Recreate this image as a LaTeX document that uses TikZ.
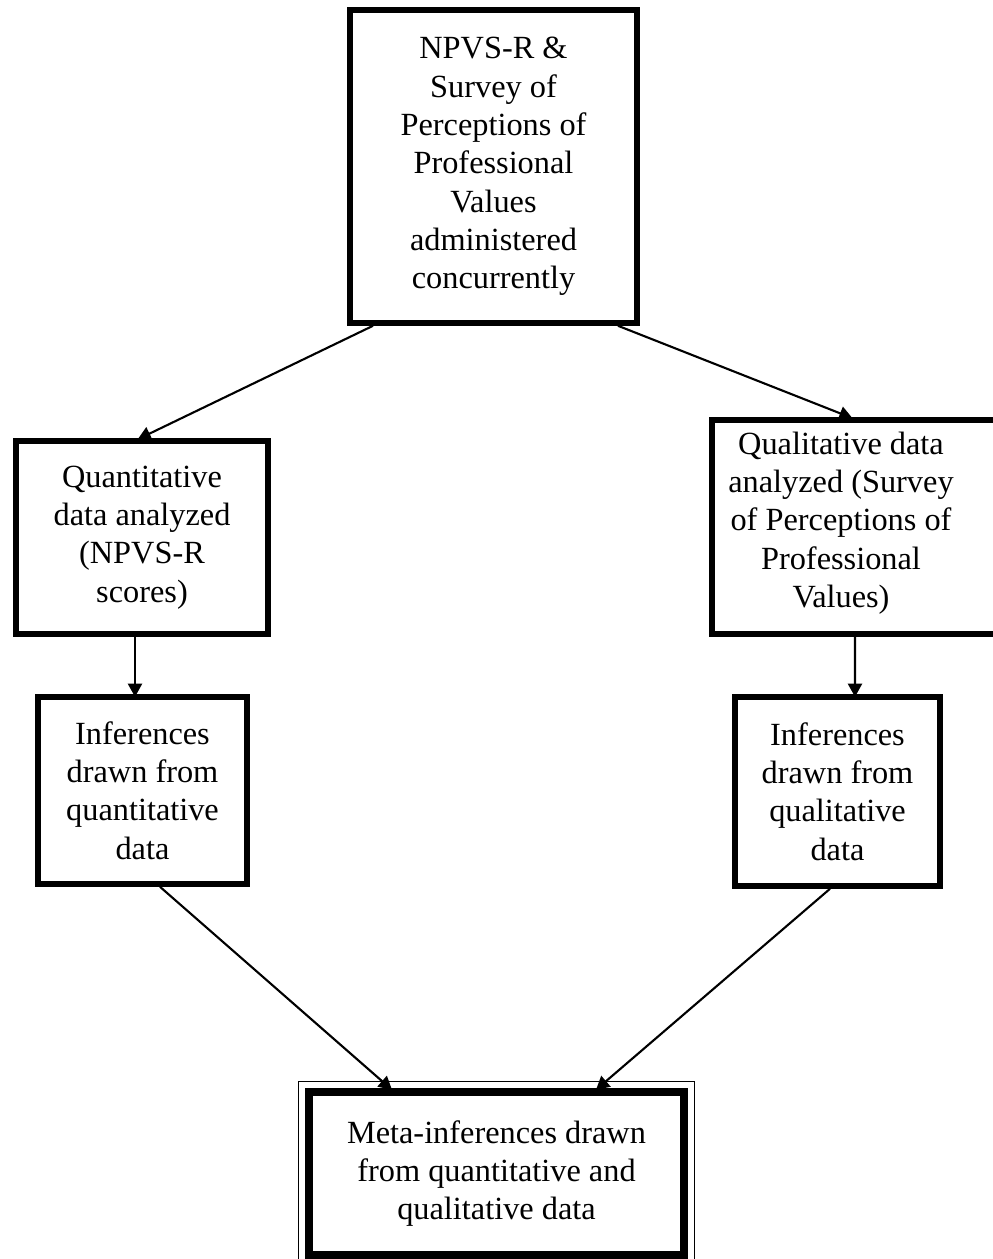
\documentclass[tikz,border=0pt]{standalone}
\usepackage{fontspec}
\setmainfont{Liberation Serif}
\usetikzlibrary{arrows.meta}
\tikzset{
  box/.style={draw,line width=3.2pt,align=center,inner sep=0pt,font=\fontsize{18.4}{21.8}\selectfont},
  txt/.style={align=center,inner sep=0pt,font=\fontsize{18.4}{21.8}\selectfont},
  arr/.style={-{Triangle[length=7.5pt,width=8pt]},line width=1.2pt,shorten >=-1.5pt},
  thinline/.style={line width=0.8pt}
}
\begin{document}
\begin{tikzpicture}[x=0.02cm,y=-0.02cm]
                \useasboundingbox (0,0) rectangle (992,1259);
                \node[box,minimum width=5.74cm,minimum height=6.26cm] (survey) at (493.5,166.5) {NPVS-R \&\\Survey of\\Perceptions of\\Professional\\Values\\administered\\concurrently};
                \node[box,minimum width=5.04cm,minimum height=3.86cm] (quant) at (142,537.5) {Quantitative\\data analyzed\\(NPVS-R\\scores)};
                \node[box,minimum width=5.76cm,minimum height=4.28cm] (qual) at (856,527) {};
                \node[txt] (qualtext) at (841,523) {Qualitative data\\analyzed (Survey\\of Perceptions of\\Professional\\Values)};
                \node[box,minimum width=4.18cm,minimum height=3.74cm] (infquant) at (142.5,790.5) {Inferences\\drawn from\\quantitative\\data};
                \node[box,minimum width=4.1cm,minimum height=3.78cm] (infqual) at (837.5,791.5) {Inferences\\drawn from\\qualitative\\data};
                \node[box,line width=4.5pt,minimum width=7.5cm,minimum height=3.26cm] (meta) at (496.5,1173.5) {Meta-inferences drawn\\from quantitative and\\qualitative data};
                \draw[thinline] ([shift={(-6.5,-6.5)}]meta.north west) rectangle ([shift={(6.5,6.5)}]meta.south east);
                \draw[thinline] ([shift={(6.5,6.5)}]meta.north west) rectangle ([shift={(-6.5,-6.5)}]meta.south east);
                \draw[arr] ([shift={(-120.5,0)}]survey.south) -- ([shift={(-2,0)}]quant.north);
                \draw[arr] ([shift={(124.5,0)}]survey.south) -- ([shift={(-6,0)}]qual.north);
                \draw[arr] ([shift={(-7,0)}]quant.south) -- ([shift={(-7.5,0)}]infquant.north);
                \draw[arr] ([shift={(-1,0)}]qual.south) -- ([shift={(17.5,0)}]infqual.north);
                \draw[arr] ([shift={(17.5,0)}]infquant.south) -- ([shift={(-106.5,0)}]meta.north);
                \draw[arr] ([shift={(-7.5,0)}]infqual.south) -- ([shift={(101.5,0)}]meta.north);
\end{tikzpicture}
\end{document}
